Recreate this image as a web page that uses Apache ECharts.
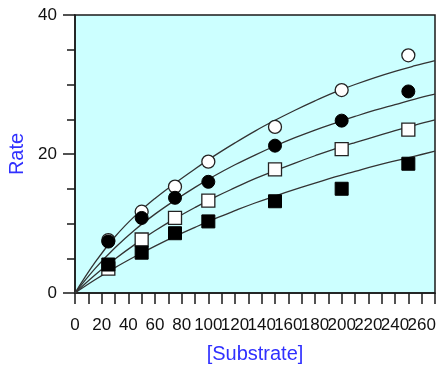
<!DOCTYPE html>
<html>
<head>
<meta charset="utf-8">
<script src="https://cdn.jsdelivr.net/npm/echarts@6/dist/echarts.min.js"></script>
<style>
  html, body { margin: 0; padding: 0; background: #ffffff; }
  #chart { width: 438px; height: 366px; }
</style>
</head>
<body>
<div id="chart"></div>
<script>
// Substrate concentrations of the measured points
const substrate = [25, 50, 75, 100, 150, 200, 250];

// Measured rates, one array per condition
const rateOpenCircle   = [7.6, 11.7, 15.3, 18.9, 23.9, 29.2, 34.2];
const rateFilledCircle = [7.4, 10.8, 13.7, 16.0, 21.2, 24.8, 29.0];
const rateOpenSquare   = [3.5, 7.7, 10.8, 13.3, 17.8, 20.7, 23.5];
const rateFilledSquare = [4.1, 5.8, 8.6, 10.3, 13.2, 15.0, 18.6];

// Fitted curves, sampled every 15 units along the substrate axis
const curveX = [0, 15, 30, 45, 60, 75, 90, 105, 120, 135, 150, 165, 180, 195, 210, 225, 240, 255, 270];
const fitOpenCircle   = [0, 4.4, 8.1, 11.1, 13.6, 15.8, 17.85, 19.8, 21.6, 23.3, 24.85, 26.3, 27.65, 28.9, 30.0, 31.0, 31.9, 32.7, 33.45];
const fitFilledCircle = [0, 3.5, 6.5, 9.1, 11.35, 13.35, 15.2, 16.9, 18.45, 19.85, 21.15, 22.35, 23.45, 24.45, 25.4, 26.3, 27.1, 27.9, 28.6];
const fitOpenSquare   = [0, 2.6, 4.9, 7.0, 8.95, 10.7, 12.3, 13.8, 15.15, 16.45, 17.6, 18.7, 19.75, 20.75, 21.65, 22.5, 23.35, 24.15, 24.9];
const fitFilledSquare = [0, 1.9, 3.65, 5.25, 6.75, 8.15, 9.45, 10.7, 11.85, 12.95, 13.95, 14.9, 15.8, 16.7, 17.5, 18.3, 19.0, 19.7, 20.4];

// Only every second tick (multiples of 20) carries a label
const labelStep = 20;

const pairs = (xs, ys) => xs.map((x, i) => [x, ys[i]]);

const chart = echarts.init(document.getElementById('chart'), null, { renderer: 'canvas' });

const lineColor = '#333333';
const axisColor = '#1a1a1a';
const titleColor = '#3030ff';
const font = 'Liberation Sans, Arial, sans-serif';

function curve(data) {
  return {
    type: 'line',
    data: pairs(curveX, data),
    smooth: 0.4,
    showSymbol: false,
    silent: true,
    z: 2,
    lineStyle: { color: lineColor, width: 1.3 }
  };
}

function points(data, symbol, filled) {
  return {
    type: 'scatter',
    data: pairs(substrate, data),
    symbol: symbol,
    symbolSize: 13,
    z: filled ? 4 : 3,
    itemStyle: filled
      ? { color: '#000000', borderColor: '#000000', borderWidth: 1, opacity: 1 }
      : { color: '#ffffff', borderColor: '#222222', borderWidth: 1.3, opacity: 1 }
  };
}

chart.setOption({
  animation: false,
  grid: {
    left: 75, right: 3, top: 15, bottom: 73,
    outerBoundsMode: 'none',
    containLabel: false,
    show: true,
    backgroundColor: '#ccffff',
    borderColor: axisColor,
    borderWidth: 1.5
  },
  xAxis: {
    type: 'value',
    min: 0, max: 270, interval: 10,
    name: '[Substrate]',
    nameLocation: 'middle',
    nameGap: 51,
    nameTextStyle: { color: titleColor, fontSize: 20, fontFamily: font },
    axisLine: { show: true, lineStyle: { color: axisColor, width: 1.5 } },
    axisTick: { show: true, inside: false, length: 11, lineStyle: { color: axisColor, width: 1.5 } },
    axisLabel: {
      color: '#111111', fontSize: 17, fontFamily: font, margin: 24,
      formatter: v => (v % labelStep === 0 ? String(v) : '')
    },
    splitLine: { show: false }
  },
  yAxis: {
    type: 'value',
    min: 0, max: 40, interval: 20,
    name: 'Rate',
    nameLocation: 'middle',
    nameGap: 47,
    nameTextStyle: { color: titleColor, fontSize: 20, fontFamily: font },
    axisLine: { show: true, lineStyle: { color: axisColor, width: 1.5 } },
    axisTick: { show: true, length: 12, lineStyle: { color: axisColor, width: 1.5 } },
    minorTick: { show: true, splitNumber: 4, length: 8, lineStyle: { color: axisColor, width: 1.5 } },
    axisLabel: { color: '#111111', fontSize: 17, fontFamily: font, margin: 18 },
    splitLine: { show: false }
  },
  series: [
    curve(fitOpenCircle),
    curve(fitFilledCircle),
    curve(fitOpenSquare),
    curve(fitFilledSquare),
    points(rateOpenCircle, 'circle', false),
    points(rateOpenSquare, 'rect', false),
    points(rateFilledCircle, 'circle', true),
    points(rateFilledSquare, 'rect', true)
  ]
});
</script>
</body>
</html>
